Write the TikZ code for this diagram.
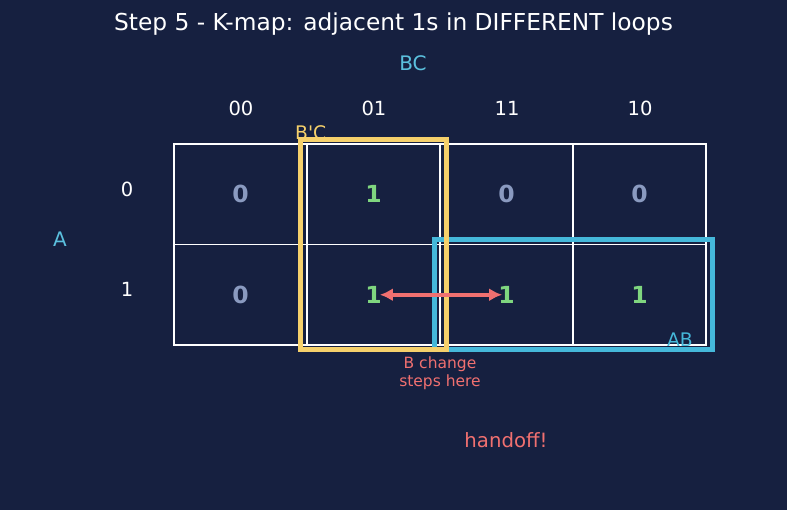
\documentclass[tikz,border=0pt]{standalone}
\usepackage{fontspec}
\setmainfont{DejaVu Sans}
\usetikzlibrary{arrows.meta,positioning,fit}
\definecolor{bgcol}{HTML}{162040}
\definecolor{zerocol}{HTML}{8A9AC0}
\definecolor{onecol}{HTML}{7FD67F}
\definecolor{loopyel}{HTML}{F5D06B}
\definecolor{loopblue}{HTML}{45B8DA}
\definecolor{axiscol}{HTML}{5BC0DE}
\definecolor{hotred}{HTML}{F07070}
\tikzset{
  cell/.style={draw=white, line width=1.6pt, minimum width=133pt,
               minimum height=100.5pt, outer sep=0pt},
  zerobit/.style={text=zerocol, font=\fontsize{23.5}{26}\selectfont\bfseries, inner sep=1pt},
  onebit/.style={text=onecol, font=\fontsize{23.5}{26}\selectfont\bfseries, inner sep=1pt},
  hdr/.style={text=white, font=\fontsize{19.5}{22}\selectfont},
  axislbl/.style={text=axiscol, font=\fontsize{20}{22}\selectfont},
  looplbl/.style={font=\fontsize{18.7}{21}\selectfont, inner sep=0pt},
  loopbox/.style={line width=4.5pt, inner xsep=6.5pt, inner ysep=4.5pt},
  handarrow/.style={draw=hotred, line width=4pt, shorten <=-3pt, shorten >=-5pt,
                    arrows={Latex[length=13pt,width=13pt]-Latex[length=13pt,width=13pt]}},
  note/.style={text=hotred, align=center, font=\fontsize{15.5}{18}\selectfont}
}
\begin{document}
\begin{tikzpicture}[x=1pt, y=-1pt, node distance=0pt]
  \fill[bgcol] (0,0) rectangle (787,510);
  \node[text=white, font=\fontsize{23.3}{27}\selectfont] (title) at (393.5,24)
    {Step 5 - K-map: adjacent 1s in DIFFERENT loops};
  \node[axislbl] (bc) at (413,63) {BC};
  \node[axislbl] (a) at (60,239) {A};
  % the map
  \node[cell] (c00) at (240.5,194.25) {};
  \node[cell, right=of c00] (c01) {};
  \node[cell, right=of c01] (c02) {};
  \node[cell, right=of c02] (c03) {};
  \node[cell, below=of c00] (c10) {};
  \node[cell, right=of c10] (c11) {};
  \node[cell, right=of c11] (c12) {};
  \node[cell, right=of c12] (c13) {};
  \node[hdr] (h00) at (241,108) {00};
  \node[hdr] (h01) at (374,108) {01};
  \node[hdr] (h11) at (507,108) {11};
  \node[hdr] (h10) at (640,108) {10};
  \node[hdr] (r0) at (127,189) {0};
  \node[hdr] (r1) at (127,289) {1};
  \node[zerobit] (v00) at (c00) {0};
  \node[onebit]  (v01) at (c01) {1};
  \node[zerobit] (v02) at (c02) {0};
  \node[zerobit] (v03) at (c03) {0};
  \node[zerobit] (v10) at (c10) {0};
  \node[onebit]  (v11) at (c11) {1};
  \node[onebit]  (v12) at (c12) {1};
  \node[onebit]  (v13) at (c13) {1};
  % loops
  \node[loopbox, draw=loopblue, line width=5pt, inner xsep=6pt, inner ysep=5pt,
        fit=(c12)(c13)] (loopAB) {};
  \node[loopbox, draw=loopyel, fit=(c01)(c11)] (loopBpC) {};
  \node[looplbl, text=loopyel, anchor=base west] (lblBpC) at (295,140) {B\textquotesingle C};
  \node[looplbl, text=loopblue, anchor=base east] (lblAB) at (693,347) {AB};
  \draw[handarrow] (v11) -- (v12);
  \node[note] (chg) at (440,373) {B change\\steps here};
  \node[note, font=\fontsize{19.7}{22}\selectfont] (handoff) at (506,440) {handoff!};
\end{tikzpicture}
\end{document}
